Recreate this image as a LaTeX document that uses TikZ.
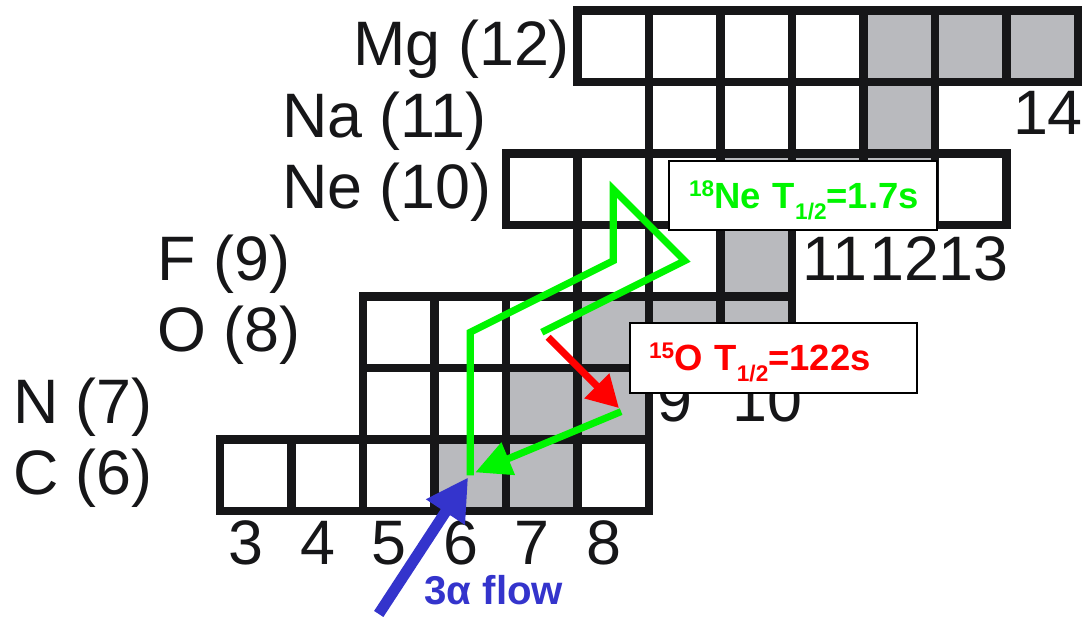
\documentclass[tikz,border=0pt]{standalone}
\usepackage{fontspec}
\setmainfont{Liberation Sans}
\usepackage{tikz}
\usetikzlibrary{arrows.meta}

\definecolor{gridline}{RGB}{22,22,24}
\definecolor{stablegrey}{RGB}{185,186,190}
\definecolor{cyclegreen}{RGB}{0,245,0}
\definecolor{decayred}{RGB}{255,0,0}
\definecolor{alphablue}{RGB}{52,52,204}

\newcommand{\massno}[1]{\raisebox{0.32em}{\fontsize{9}{10}\selectfont #1}}
\newcommand{\halfidx}{\raisebox{-0.3em}{\fontsize{9}{10}\selectfont 1/2}}

\begin{document}
\begin{tikzpicture}[
    cell/.style={rectangle, draw=gridline, line width=3.3pt, fill=white, minimum size=1cm, inner sep=0pt, outer sep=0pt},
    elem/.style={anchor=base west, inner sep=0pt, text=gridline, font=\fontsize{25}{29}\selectfont},
    num/.style={anchor=base, inner sep=0pt, text=gridline, font=\fontsize{25}{29}\selectfont},
    halflife/.style={rectangle, draw=black, line width=0.8pt, fill=white, inner sep=0pt, text width=#1, text height=0.66cm, text depth=0.31cm, align=left, font=\fontsize{14.5}{16}\selectfont\bfseries},
    flow/.style={draw=cyclegreen, line width=2.8pt, line join=miter},
    decay/.style={draw=decayred, line width=2.8pt, -{Triangle[length=0.44cm, width=0.47cm]}},
    alphaflow/.style={draw=alphablue, line width=4.4pt, -{Triangle[length=0.58cm, width=0.61cm]}}
]
\useasboundingbox (-0.577,4.017) rectangle (14.612,12.647);

% chart cells (x = N, y = Z), stable ones grey
\foreach \el/\z/\first/\last/\slo/\shi in {C/6/3/8/6/7, N/7/5/8/7/8, O/8/5/10/8/10, F/9/8/10/10/10, Ne/10/7/13/10/12, Na/11/9/12/12/12, Mg/12/8/14/12/14}{
    \foreach \n in {\first,...,\last}{
        \pgfmathtruncatemacro{\A}{\z+\n}
        \pgfmathtruncatemacro{\isstable}{and(\n>=\slo, \n<=\shi)}
        \ifnum\isstable=1 \def\cellfill{stablegrey}\else\def\cellfill{white}\fi
        \node[cell, fill=\cellfill] (\el\A) at (\n,\z) {};
    }
}

% element labels
\node[elem] (lblMg) at (4.36,11.73) {Mg (12)};
\node[elem] (lblNa) at (3.36,10.73) {Na (11)};
\node[elem] (lblNe) at (3.36,9.73) {Ne (10)};
\node[elem] (lblF) at (1.62,8.73) {F (9)};
\node[elem] (lblO) at (1.62,7.73) {O (8)};
\node[elem] (lblN) at (-0.40,6.73) {N (7)};
\node[elem] (lblC) at (-0.40,5.73) {C (6)};

% neutron numbers
\foreach \n in {3,...,8}
    \node[num] (nn\n) at (\n-0.13,4.745) {\n};
\node[num] (nn9) at (8.86,6.745) {9};
\node[num] (nn10) at (10.16,6.745) {10};
\node[num] (nn11) at (11.1,8.73) {11};
\node[num] (nn12) at (12.07,8.73) {12};
\node[num] (nn13) at (13.04,8.73) {13};
\node[num] (nn14) at (14.08,10.76) {14};

% breakout cycle
\draw[flow] (C12.center) -- (O14.center) -- (F17.center) -- (Ne18.center) -- (F18.center) -- (O15.center);
\draw[decay] ([shift={(0.09,-0.07)}]O15.center) -- ([shift={(0.08,-0.06)}]N15.center);
\draw[flow, -{Triangle[length=0.5cm, width=0.47cm]}] ([shift={(0.11,-0.11)}]N15.center) -- ([shift={(0.07,0.04)}]C12.center);

% half-life boxes
\node[halflife=3.75cm, text=cyclegreen] (ne18life) at (10.655,9.91) {\hspace*{0.28cm}\massno{18}Ne T\halfidx=1.7s};
\node[halflife=4.02cm, text=decayred] (o15life) at (10.24,7.64) {\hspace*{0.27cm}\massno{15}O T\halfidx=122s};

% triple alpha input
\coordinate (alphain) at (4.72,4.06);
\draw[alphaflow] (alphain) -- ([shift={(-0.03,-0.03)}]C12.center);
\node[anchor=base, inner sep=0pt, text=alphablue, font=\fontsize{16}{18}\selectfont\bfseries] (alphatext) at (6.33,4.19) {3α flow};
\end{tikzpicture}
\end{document}
